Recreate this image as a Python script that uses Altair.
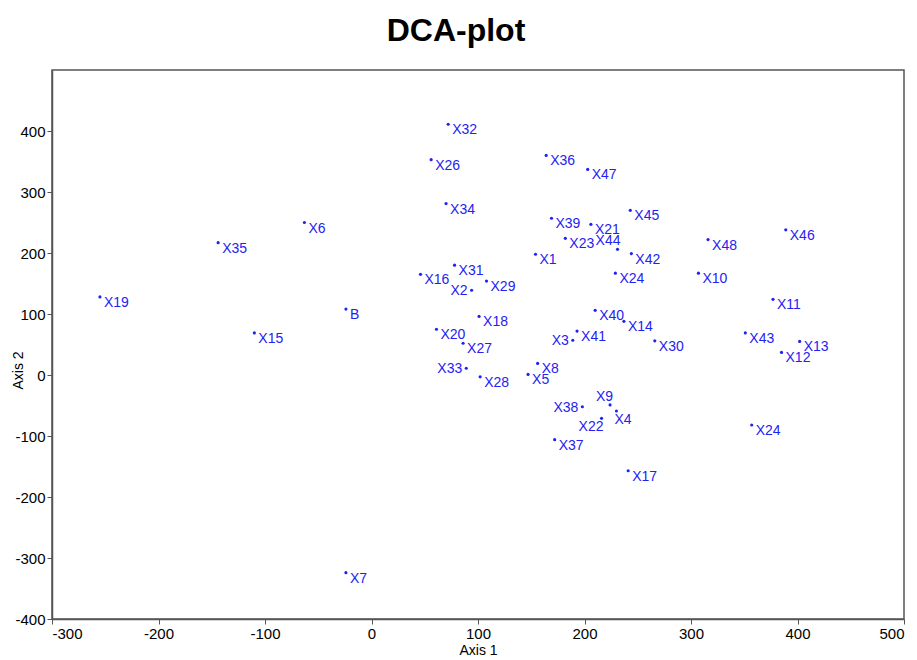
import altair as alt
import pandas as pd

# DCA sample scores (axis 1, axis 2) with the side each label sits on
names = ["X1", "X2", "X3", "X4", "X5", "X6", "X7", "X8", "X9", "X10",
         "X11", "X12", "X13", "X14", "X15", "X16", "X17", "X18", "X19", "X20",
         "X21", "X22", "X23", "X24", "X24", "X26", "X27", "X28", "X29", "X30",
         "X31", "X32", "X33", "X34", "X35", "X36", "X37", "X38", "X39", "X40",
         "X41", "X42", "X43", "X44", "X45", "X46", "X47", "X48", "B"]
axis1 = [154, 94, 189, 230, 147, -63, -24, 156, 224, 307,
         377, 385, 402, 237, -110, 46, 241, 101, -255, 61,
         206, 216, 182, 229, 357, 56, 86, 102, 108, 266,
         78, 72, 89, 70, -144, 164, 172, 198, 169, 210,
         193, 244, 351, 231, 243, 389, 203, 316, -24]
axis2 = [198, 139, 57, -59, 1, 250, -324, 19, -49, 167,
         124, 37, 55, 88, 69, 165, -157, 96, 128, 75,
         247, -71, 224, 167, -82, 353, 52, -3, 154, 56,
         180, 411, 11, 281, 217, 360, -106, -52, 257, 106,
         72, 199, 69, 206, 270, 238, 337, 222, 108]
label_side = ["r", "l", "l", "d", "r", "r", "r", "r", "ul", "r",
              "r", "r", "r", "r", "r", "r", "r", "r", "r", "r",
              "r", "dl", "r", "r", "r", "r", "r", "r", "r", "r",
              "r", "r", "l", "r", "r", "r", "r", "l", "r", "r",
              "r", "r", "r", "ul", "r", "r", "r", "r", "r"]

x_ticks = [-300, -200, -100, 0, 100, 200, 300, 400, 500]
y_ticks = [-400, -300, -200, -100, 0, 100, 200, 300, 400]

df = pd.DataFrame({"name": names, "a1": axis1, "a2": axis2, "side": label_side})

BLUE = "#1f22f2"
FONT = "Liberation Sans"

# text anchoring for each label side
side_style = {
    "r": dict(align="left", dx=4, dy=6),
    "l": dict(align="right", dx=-4, dy=1),
    "ul": dict(align="right", dx=3, dy=-8),
    "dl": dict(align="right", dx=2, dy=9),
    "d": dict(align="left", dx=-2, dy=9),
}

# plain hyphen for negative tick labels
tick_text = "'' + datum.value"

x_enc = alt.X("a1:Q", title="Axis 1",
              scale=alt.Scale(domain=[-300, 500], nice=False, zero=False),
              axis=alt.Axis(values=x_ticks, labelExpr=tick_text))
y_enc = alt.Y("a2:Q", title="Axis 2",
              scale=alt.Scale(domain=[-400, 500], nice=False, zero=False),
              axis=alt.Axis(values=y_ticks, labelExpr=tick_text,
                            titleX=-34, titleY=300, titleBaseline="middle"))

base = alt.Chart(df).encode(x=x_enc, y=y_enc)

points = base.mark_circle(size=10, color=BLUE, opacity=1)

labels = [
    base.transform_filter(alt.datum.side == s)
    .mark_text(font=FONT, fontSize=14, color=BLUE, baseline="middle", **st)
    .encode(text="name:N")
    for s, st in side_style.items()
]

chart = (
    alt.layer(points, *labels)
    .properties(
        width=852,
        height=549,
        title=alt.TitleParams("DCA-plot", font=FONT, fontSize=32, fontWeight="bold",
                              anchor="middle", dx=-22, offset=22, color="black"),
        autosize=alt.AutoSizeParams(type="none"),
        padding={"left": 52, "top": 70, "right": 13, "bottom": 41},
    )
    .configure_view(stroke="#555555", strokeWidth=1.5)
    .configure_axis(
        grid=False,
        domainColor="#555555",
        domainWidth=1.5,
        tickColor="#555555",
        tickSize=5,
        labelFont=FONT,
        labelFontSize=15,
        labelColor="black",
        titleFont=FONT,
        titleFontSize=14,
        titleFontWeight="normal",
        titleColor="black",
    )
    .configure_axisX(labelPadding=2, titlePadding=2)
    .configure_axisY(labelPadding=2)
)

chart.save("out.html", embed_options={"renderer": "svg", "actions": False})
